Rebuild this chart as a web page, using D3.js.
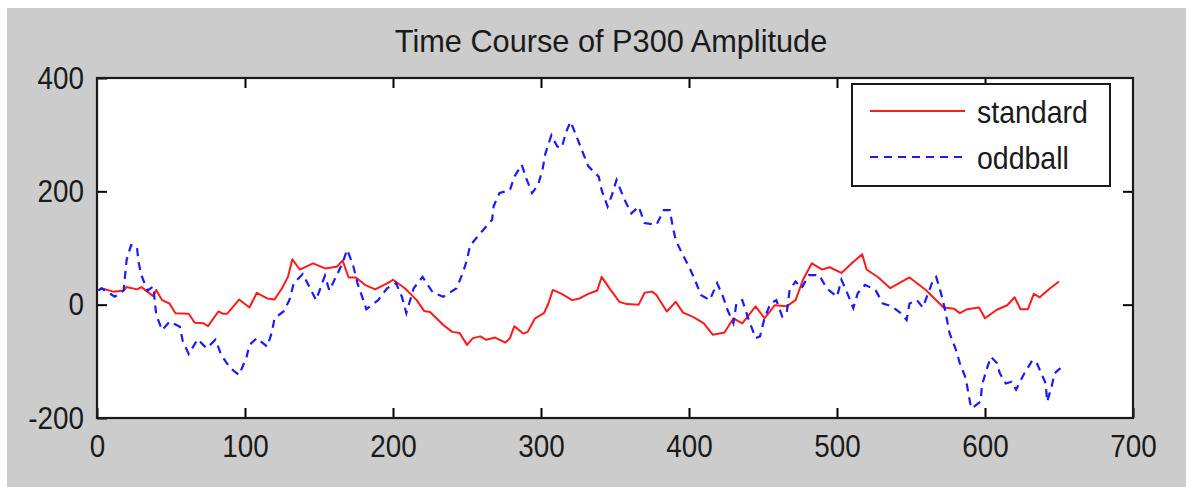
<!DOCTYPE html>
<html>
<head>
<meta charset="utf-8">
<script src="https://cdn.jsdelivr.net/npm/d3@7"></script>
<style>
  html, body { margin: 0; padding: 0; background: #ffffff; }
  svg { display: block; }
  text { font-family: "Liberation Sans", Arial, Helvetica, sans-serif; fill: #1a1a1a; }
</style>
</head>
<body>
<svg id="chart" width="1186" height="487"></svg>
<script>
// ---- data ----
const chartTitle = "Time Course of P300 Amplitude";
const seriesNames = ["standard", "oddball"];
const xTicks = [0, 100, 200, 300, 400, 500, 600, 700];
const yTicks = [-200, 0, 200, 400];

const standardTime = [1,3,11,18,20,27,30,34,38,40,44,49,53,62,66,72,75,82,85,88,96,103,108,115,120,125,129,132,137,146,154,162,166,170,175,181,188,197,200,208,216,221,225,234,240,245,250,254,259,263,269,276,279,282,288,291,296,302,305,308,314,321,326,332,338,341,347,353,358,366,370,375,378,385,391,396,403,410,416,424,430,436,445,451,458,466,472,477,483,490,495,503,510,517,520,528,536,542,549,560,572,579,583,588,596,600,608,615,620,624,629,633,637,644,650];
const standardAmp = [25,29,23,25,31,27,31,23,15,26,8,2,-15,-16,-32,-33,-38,-12,-16,-16,9,-5,21,11,9,29,49,80,62,73,64,67,78,48,48,35,27,39,44,29,8,-11,-13,-36,-48,-50,-71,-59,-56,-62,-58,-67,-59,-38,-51,-48,-24,-15,2,26,19,8,11,19,25,49,26,5,1,0,21,23,17,-12,5,-14,-22,-33,-53,-49,-24,-33,-3,-24,-1,-3,8,44,73,62,66,56,73,89,62,48,29,38,48,26,-5,-7,-15,-8,-5,-24,-9,-1,13,-8,-8,19,13,29,41];

const oddballTime = [1,3,12,18,20,23,27,28,30,34,38,39,40,44,49,56,58,62,68,74,80,84,90,96,101,103,108,115,118,120,126,130,133,139,144,148,154,157,162,166,169,173,176,182,190,196,202,206,209,214,220,227,234,243,247,250,252,259,267,268,272,279,282,287,290,294,298,301,303,307,311,314,317,320,324,328,332,339,341,345,348,351,356,361,366,370,378,383,387,389,391,395,400,404,408,414,419,423,426,430,432,436,440,445,448,451,455,459,463,466,468,472,476,481,488,493,500,503,507,511,514,519,526,531,537,543,547,549,554,558,565,567,570,573,576,580,583,587,590,591,597,598,601,604,608,610,614,618,621,626,632,635,638,641,642,645,647,651];
const oddballAmp = [25,29,14,25,79,105,102,76,52,25,32,8,-18,-45,-30,-39,-65,-87,-61,-77,-62,-89,-112,-124,-93,-71,-59,-74,-50,-24,-12,8,38,54,29,8,51,25,52,74,97,70,38,-8,8,29,38,14,-15,29,49,21,14,29,55,79,104,126,150,174,197,202,226,247,223,197,211,238,267,299,279,277,305,323,297,270,244,226,202,173,194,220,188,161,173,144,141,167,167,138,114,92,67,44,17,8,38,14,-9,-33,2,8,-24,-59,-56,-24,2,8,-21,-15,26,41,29,52,52,29,14,44,20,-6,20,35,26,2,-3,-15,-27,2,8,-5,44,49,23,-9,-50,-77,-103,-130,-174,-183,-171,-142,-115,-92,-103,-121,-139,-136,-150,-124,-98,-103,-121,-139,-171,-145,-121,-112];

// ---- layout ----
const W = 1186, H = 487;
const plot = { left: 97, right: 1133, top: 78, bottom: 418 };
const fontSize = 32;
const tickSX = 0.87, titleSX = 0.96, legendSX = 0.89;

const svg = d3.select("#chart");

// figure background
svg.append("rect").attr("x", 0).attr("y", 0).attr("width", W).attr("height", H).attr("fill", "#ffffff");
svg.append("rect").attr("x", 7).attr("y", 8).attr("width", W - 7).attr("height", H - 8).attr("fill", "#cccccc");

const x = d3.scaleLinear().domain([0, 700]).range([plot.left, plot.right]);
const y = d3.scaleLinear().domain([-200, 400]).range([plot.bottom, plot.top]);

// axes area
svg.append("rect")
  .attr("x", plot.left).attr("y", plot.top)
  .attr("width", plot.right - plot.left).attr("height", plot.bottom - plot.top)
  .attr("fill", "#ffffff");

// lines
const std = standardTime.map((t, i) => [t, standardAmp[i]]);
const odd = oddballTime.map((t, i) => [t, oddballAmp[i]]);
const line = d3.line().x(d => x(d[0])).y(d => y(d[1]));

svg.append("path").datum(std)
  .attr("d", line).attr("fill", "none")
  .attr("stroke", "#ff1a1a").attr("stroke-width", 2).attr("stroke-linejoin", "round");

svg.append("path").datum(odd)
  .attr("d", line).attr("fill", "none")
  .attr("stroke", "#1a1aff").attr("stroke-width", 2.2).attr("stroke-dasharray", "8,6");

// axes (inward ticks)
function styleAxis(g) {
  g.select(".domain").remove();
  g.selectAll(".tick line").attr("stroke", "#000").attr("stroke-width", 2);
  g.selectAll(".tick text").attr("font-size", fontSize).attr("fill", "#1a1a1a")
    .style("font-family", '"Liberation Sans", Arial, sans-serif')
    .attr("transform", `scale(${tickSX},1)`);
}
const fmt = d => String(d);

svg.append("g").attr("transform", `translate(0,${plot.bottom})`)
  .call(d3.axisBottom(x).tickValues(xTicks).tickFormat(fmt).tickSizeInner(-10).tickSizeOuter(0).tickPadding(16))
  .call(styleAxis);
svg.append("g").attr("transform", `translate(0,${plot.top})`)
  .call(d3.axisTop(x).tickValues(xTicks.slice(1, -1)).tickFormat("").tickSizeInner(-10).tickSizeOuter(0))
  .call(styleAxis);
const yAxisG = svg.append("g").attr("transform", `translate(${plot.left},0)`)
  .call(d3.axisLeft(y).tickValues(yTicks).tickFormat(fmt).tickSizeInner(-10).tickSizeOuter(0).tickPadding(13))
  .call(styleAxis);
yAxisG.selectAll(".tick text").attr("x", -13 / tickSX);
svg.append("g").attr("transform", `translate(${plot.right},0)`)
  .call(d3.axisRight(y).tickValues(yTicks.slice(1, -1)).tickFormat("").tickSizeInner(-10).tickSizeOuter(0))
  .call(styleAxis);

// box
svg.append("rect")
  .attr("x", plot.left).attr("y", plot.top)
  .attr("width", plot.right - plot.left).attr("height", plot.bottom - plot.top)
  .attr("fill", "none").attr("stroke", "#1a1a1a").attr("stroke-width", 2.2);

// title
svg.append("text")
  .attr("transform", `translate(611,52) scale(${titleSX},1)`)
  .attr("text-anchor", "middle")
  .attr("font-size", fontSize)
  .text(chartTitle);

// legend
const lg = svg.append("g");
lg.append("rect").attr("x", 852).attr("y", 84).attr("width", 258).attr("height", 102)
  .attr("fill", "#ffffff").attr("stroke", "#1a1a1a").attr("stroke-width", 2);
const legendItems = [
  { name: seriesNames[0], color: "#ff1a1a", dash: null, yy: 111 },
  { name: seriesNames[1], color: "#1a1aff", dash: "8,6", yy: 157 }
];
legendItems.forEach(it => {
  lg.append("line").attr("x1", 870).attr("x2", 965).attr("y1", it.yy).attr("y2", it.yy)
    .attr("stroke", it.color).attr("stroke-width", 2)
    .attr("stroke-dasharray", it.dash);
  lg.append("text").attr("transform", `translate(977,${it.yy}) scale(${legendSX},1)`)
    .attr("dy", "0.39em")
    .attr("font-size", fontSize).text(it.name);
});
</script>
</body>
</html>
